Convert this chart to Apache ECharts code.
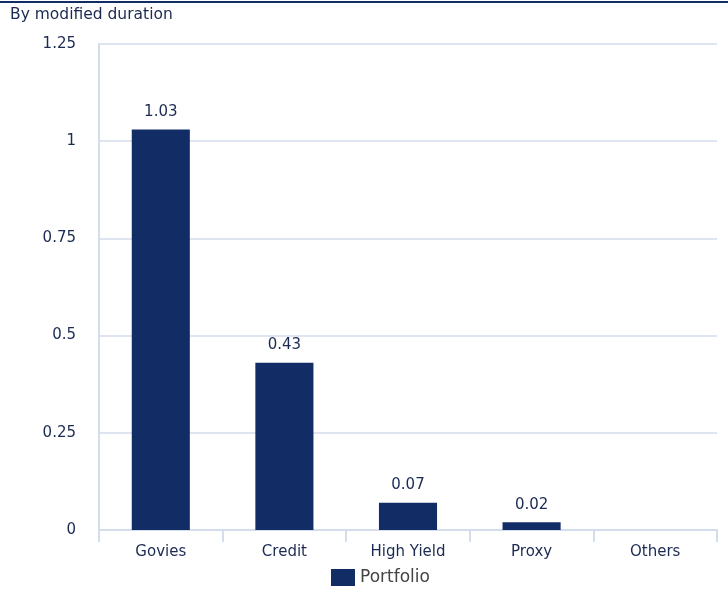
<!DOCTYPE html>
<html>
<head>
<meta charset="utf-8">
<script src="https://cdn.jsdelivr.net/npm/echarts@6/dist/echarts.min.js"></script>
<style>
  html, body { margin: 0; padding: 0; background: #fff; }
  #chart { width: 728px; height: 591px; }
</style>
</head>
<body>
<div id="chart"></div>
<script>
// Modified duration contribution by bucket
const categories = ['Govies', 'Credit', 'High Yield', 'Proxy', 'Others'];
const portfolio = [1.03, 0.43, 0.07, 0.02, 0];
const yTicks = [0, 0.25, 0.5, 0.75, 1, 1.25];

const navy = '#122c66';
const textColor = '#1b2a52';
const gridColor = '#d3ddec';
const font = 'DejaVu Sans, Verdana, sans-serif';

const chart = echarts.init(document.getElementById('chart'));
chart.setOption({
  animation: false,
  textStyle: { fontFamily: font },
  graphic: [
    { type: 'rect', left: 0, top: 1, shape: { width: 728, height: 2 }, style: { fill: navy } },
    { type: 'text', left: 10, top: 7, style: { text: 'By modified duration', fill: textColor, font: '15.5px ' + font } }
  ],
  grid: { left: 99, right: 11, top: 44, bottom: 61 },
  legend: {
    top: 564,
    left: 326,
    itemWidth: 24,
    itemHeight: 17,
    itemGap: 6,
    icon: 'rect',
    textStyle: { color: '#444', fontSize: 17, fontFamily: font },
    data: ['Portfolio']
  },
  xAxis: {
    type: 'category',
    data: categories,
    axisLine: { lineStyle: { color: gridColor, width: 2 } },
    axisTick: { show: true, length: 12, alignWithLabel: false, lineStyle: { color: gridColor, width: 2 } },
    axisLabel: { color: textColor, fontSize: 15, margin: 15, fontFamily: font }
  },
  yAxis: {
    type: 'value',
    min: 0,
    max: 1.25,
    interval: 0.25,
    axisLine: { show: true, lineStyle: { color: gridColor, width: 2 } },
    axisTick: { show: false },
    splitLine: { lineStyle: { color: gridColor, width: 1.5 } },
    axisLabel: {
      color: textColor, fontSize: 15, margin: 23, fontFamily: font,
      formatter: v => yTicks.includes(v) ? String(v) : ''
    }
  },
  series: [{
    name: 'Portfolio',
    type: 'bar',
    data: portfolio,
    barWidth: '47%',
    itemStyle: { color: navy },
    label: {
      show: true,
      position: 'top',
      distance: 10,
      color: textColor,
      fontSize: 15,
      fontFamily: font,
      formatter: p => p.value === 0 ? '' : p.value.toFixed(2)
    }
  }]
});
</script>
</body>
</html>
